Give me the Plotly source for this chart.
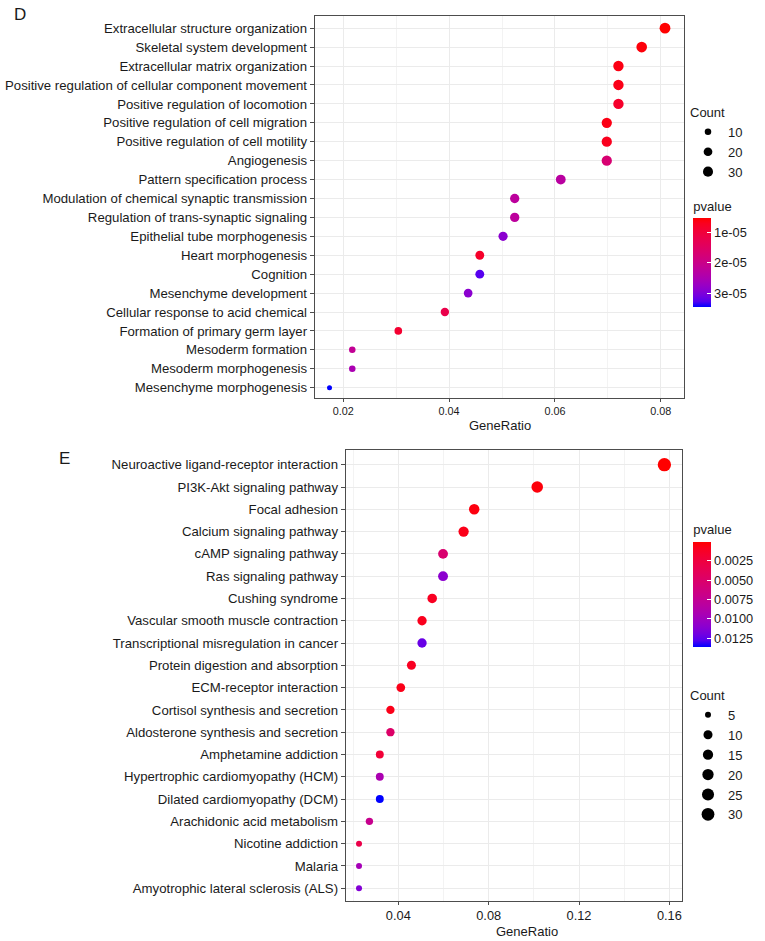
import math
import plotly.graph_objects as go

# ---------------- Data: panel D (GO terms) ----------------
d_terms = [
    "Extracellular structure organization",
    "Skeletal system development",
    "Extracellular matrix organization",
    "Positive regulation of cellular component movement",
    "Positive regulation of locomotion",
    "Positive regulation of cell migration",
    "Positive regulation of cell motility",
    "Angiogenesis",
    "Pattern specification process",
    "Modulation of chemical synaptic transmission",
    "Regulation of trans-synaptic signaling",
    "Epithelial tube morphogenesis",
    "Heart morphogenesis",
    "Cognition",
    "Mesenchyme development",
    "Cellular response to acid chemical",
    "Formation of primary germ layer",
    "Mesoderm formation",
    "Mesoderm morphogenesis",
    "Mesenchyme morphogenesis",
]
d_gene_ratio = [0.0808, 0.0764, 0.0720, 0.0720, 0.0720, 0.0698, 0.0698, 0.0698, 0.0611, 0.0524,
                0.0524, 0.0502, 0.0458, 0.0458, 0.0436, 0.0392, 0.0304, 0.0217, 0.0217, 0.0174]
d_count = [37, 35, 33, 33, 33, 32, 32, 32, 28, 24, 24, 23, 21, 21, 20, 18, 14, 10, 10, 8]
d_pvalue = [5.4e-6, 6.0e-6, 6.5e-6, 6.8e-6, 8.5e-6, 6.6e-6, 7.2e-6, 1.7e-5, 2.3e-5, 2.25e-5,
            2.25e-5, 2.9e-5, 8.3e-6, 3.27e-5, 2.9e-5, 1.2e-5, 9.1e-6, 2.15e-5, 2.53e-5, 3.47e-5]
d_count_legend = [10, 20, 30]
d_pvalue_ticks = [1e-5, 2e-5, 3e-5]
d_pvalue_ticktext = ["1e-05", "2e-05", "3e-05"]
d_x_ticks = [0.02, 0.04, 0.06, 0.08]

# ---------------- Data: panel E (KEGG pathways) ----------------
e_terms = [
    "Neuroactive ligand-receptor interaction",
    "PI3K-Akt signaling pathway",
    "Focal adhesion",
    "Calcium signaling pathway",
    "cAMP signaling pathway",
    "Ras signaling pathway",
    "Cushing syndrome",
    "Vascular smooth muscle contraction",
    "Transcriptional misregulation in cancer",
    "Protein digestion and absorption",
    "ECM-receptor interaction",
    "Cortisol synthesis and secretion",
    "Aldosterone synthesis and secretion",
    "Amphetamine addiction",
    "Hypertrophic cardiomyopathy (HCM)",
    "Dilated cardiomyopathy (DCM)",
    "Arachidonic acid metabolism",
    "Nicotine addiction",
    "Malaria",
    "Amyotrophic lateral sclerosis (ALS)",
]
e_gene_ratio = [0.1578, 0.1015, 0.0736, 0.0689, 0.0598, 0.0598, 0.0550, 0.0505, 0.0505, 0.0458,
                0.0411, 0.0365, 0.0365, 0.0318, 0.0318, 0.0318, 0.0272, 0.0226, 0.0226, 0.0226]
e_count = [34, 22, 16, 15, 13, 13, 12, 11, 11, 10, 9, 8, 8, 7, 7, 7, 6, 5, 5, 5]
e_pvalue = [0.000002, 0.0003, 0.0004, 0.0007, 0.0052, 0.0109, 0.0010, 0.0008, 0.0122, 0.0010,
            0.0007, 0.0007, 0.0048, 0.0020, 0.0092, 0.0136, 0.0071, 0.0030, 0.0095, 0.0113]
e_count_legend = [5, 10, 15, 20, 25, 30]
e_pvalue_ticks = [0.0025, 0.0050, 0.0075, 0.0100, 0.0125]
e_pvalue_ticktext = ["0.0025", "0.0050", "0.0075", "0.0100", "0.0125"]
e_x_ticks = [0.04, 0.08, 0.12, 0.16]

# ---------------- Styling helpers ----------------
W, H = 765, 941
FONT = "Liberation Sans, Arial, Helvetica, sans-serif"
TXT = "#1a1a1a"


def srgb_to_lab(rgb):
    def lin(c):
        c = c / 255.0
        return c / 12.92 if c <= 0.04045 else ((c + 0.055) / 1.055) ** 2.4
    r, g, b = [lin(c) for c in rgb]
    X = (0.4124 * r + 0.3576 * g + 0.1805 * b) / 0.95047
    Y = (0.2126 * r + 0.7152 * g + 0.0722 * b)
    Z = (0.0193 * r + 0.1192 * g + 0.9505 * b) / 1.08883

    def f(t):
        return t ** (1 / 3) if t > 216 / 24389 else (24389 / 27 * t + 16) / 116
    fx, fy, fz = f(X), f(Y), f(Z)
    return (116 * fy - 16, 500 * (fx - fy), 200 * (fy - fz))


def lab_to_srgb(lab):
    L, a, b = lab
    fy = (L + 16) / 116
    fx = fy + a / 500
    fz = fy - b / 200

    def finv(t):
        return t ** 3 if t ** 3 > 216 / 24389 else (116 * t - 16) / (24389 / 27)
    X, Y, Z = 0.95047 * finv(fx), finv(fy), 1.08883 * finv(fz)
    r = 3.2406 * X - 1.5372 * Y - 0.4986 * Z
    g = -0.9689 * X + 1.8758 * Y + 0.0415 * Z
    bb = 0.0557 * X - 0.2040 * Y + 1.0570 * Z

    def gam(c):
        c = min(max(c, 0.0), 1.0)
        return 12.92 * c if c <= 0.0031308 else 1.055 * c ** (1 / 2.4) - 0.055
    return tuple(int(round(255 * gam(c))) for c in (r, g, bb))


RED_LAB = srgb_to_lab((255, 0, 0))
BLUE_LAB = srgb_to_lab((0, 0, 255))
# colour axis runs on -pvalue so that small p-values (red) sit at the top of the bar
colorscale = []
N = 16
for i in range(N + 1):
    s = i / N
    t = 1 - s  # 0 -> red, 1 -> blue
    lab = tuple(RED_LAB[k] + (BLUE_LAB[k] - RED_LAB[k]) * t for k in range(3))
    r, g, b = lab_to_srgb(lab)
    colorscale.append([s, f"rgb({r},{g},{b})"])


def size_scale(counts, dmin, dmax):
    lo, hi = min(counts), max(counts)
    return lambda c: dmin + (dmax - dmin) * math.sqrt((c - lo) / (hi - lo))


size_d = size_scale(d_count, 5.0, 10.8)
size_e = size_scale(e_count, 6.0, 13.3)

fig = go.Figure()

# main dot traces
fig.add_trace(go.Scatter(
    x=d_gene_ratio, y=d_terms, mode="markers", xaxis="x", yaxis="y",
    marker=dict(size=[size_d(c) for c in d_count], color=[-p for p in d_pvalue],
                coloraxis="coloraxis", line=dict(width=0), opacity=1),
    showlegend=False, hoverinfo="x+y",
))
fig.add_trace(go.Scatter(
    x=e_gene_ratio, y=e_terms, mode="markers", xaxis="x2", yaxis="y2",
    marker=dict(size=[size_e(c) for c in e_count], color=[-p for p in e_pvalue],
                coloraxis="coloraxis2", line=dict(width=0), opacity=1),
    showlegend=False, hoverinfo="x+y",
))

# size legends (Count)
for c in d_count_legend:
    fig.add_trace(go.Scatter(
        x=[None], y=[None], mode="markers", xaxis="x", yaxis="y", name=str(c),
        marker=dict(size=size_d(c), color="black", line=dict(width=0)),
        legend="legend", showlegend=True, hoverinfo="skip",
    ))
for c in e_count_legend:
    fig.add_trace(go.Scatter(
        x=[None], y=[None], mode="markers", xaxis="x2", yaxis="y2", name=str(c),
        marker=dict(size=size_e(c), color="black", line=dict(width=0)),
        legend="legend2", showlegend=True, hoverinfo="skip",
    ))

GRID = "#EBEBEB"
MINOR = "#F3F3F3"
BORDER = "#4d4d4d"


def xaxis_style(domain, anchor, rng, ticks, tickfont, minor_dtick):
    return dict(
        domain=domain, anchor=anchor, range=rng,
        tickmode="array", tickvals=ticks, ticktext=[f"{t:.2f}" for t in ticks],
        tickfont=dict(family=FONT, size=tickfont, color=TXT),
        showgrid=True, gridcolor=GRID, gridwidth=1,
        minor=dict(dtick=minor_dtick, tick0=0, showgrid=True, gridcolor=MINOR, gridwidth=1, ticks=""),
        showline=True, linecolor=BORDER, linewidth=1, mirror=True,
        ticks="outside", ticklen=3, tickcolor=BORDER, tickwidth=1,
        zeroline=False, fixedrange=True,
    )


def yaxis_style(domain, anchor, cats):
    return dict(
        domain=domain, anchor=anchor, type="category",
        categoryorder="array", categoryarray=cats,
        range=[len(cats) - 1 + 0.56, -0.66],
        tickfont=dict(family=FONT, size=13.2, color=TXT),
        showgrid=True, gridcolor=GRID, gridwidth=1,
        showline=True, linecolor=BORDER, linewidth=1, mirror=True,
        ticks="outside", ticklen=4, tickcolor=BORDER, tickwidth=1,
        zeroline=False, fixedrange=True,
    )


d_xdom = [314.7 / W, 684.3 / W]
d_ydom = [1 - 398.3 / H, 1 - 15.7 / H]
e_xdom = [345.7 / W, 682.0 / W]
e_ydom = [1 - 900.7 / H, 1 - 450.0 / H]

TITLE_SPACE = 21  # pixels the colorbar title takes inside the colorbar length


def colorbar(bar_top_px, bar_len_px, ticks, ticktext):
    total = bar_len_px + TITLE_SPACE
    top = bar_top_px - TITLE_SPACE
    return dict(
        title=dict(text="pvalue", side="top", font=dict(family=FONT, size=13, color=TXT)),
        tickmode="array", tickvals=[-t for t in ticks], ticktext=ticktext,
        tickfont=dict(family=FONT, size=12.8, color=TXT),
        ticks="inside", ticklen=4, tickcolor="white", tickwidth=1,
        outlinewidth=0, thickness=18,
        lenmode="pixels", len=total,
        x=693.3 / W, xanchor="left", xpad=0,
        y=1 - (top + total / 2) / H, yanchor="middle", ypad=0,
    )


fig.update_layout(
    width=W, height=H, autosize=False,
    margin=dict(l=0, r=0, t=0, b=0),
    paper_bgcolor="white", plot_bgcolor="white",
    font=dict(family=FONT, color=TXT),
    xaxis=xaxis_style(d_xdom, "y", [0.0146, 0.08445], d_x_ticks, 10.8, 0.01),
    yaxis=yaxis_style(d_ydom, "x", d_terms),
    xaxis2=xaxis_style(e_xdom, "y2", [0.0167, 0.1656], e_x_ticks, 12.8, 0.02),
    yaxis2=yaxis_style(e_ydom, "x2", e_terms),
    coloraxis=dict(colorscale=colorscale, cmin=-max(d_pvalue), cmax=-min(d_pvalue),
                   colorbar=colorbar(219.3, 88, d_pvalue_ticks, d_pvalue_ticktext)),
    coloraxis2=dict(colorscale=colorscale, cmin=-max(e_pvalue), cmax=-min(e_pvalue),
                    colorbar=colorbar(542.7, 104, e_pvalue_ticks, e_pvalue_ticktext)),
    legend=dict(
        title=dict(text="Count", font=dict(family=FONT, size=13, color=TXT)),
        font=dict(family=FONT, size=13, color=TXT),
        itemsizing="trace", x=688 / W, xanchor="left", y=1 - 100 / H, yanchor="top",
        bgcolor="rgba(0,0,0,0)", borderwidth=0, tracegroupgap=0,
    ),
    legend2=dict(
        title=dict(text="Count", font=dict(family=FONT, size=13, color=TXT)),
        font=dict(family=FONT, size=13, color=TXT),
        itemsizing="trace", x=688 / W, xanchor="left", y=1 - 683 / H, yanchor="top",
        bgcolor="rgba(0,0,0,0)", borderwidth=0, tracegroupgap=0,
    ),
    annotations=[
        dict(text="D", x=12 / W, y=1 - 14 / H, xref="paper", yref="paper",
             showarrow=False, font=dict(family=FONT, size=17, color=TXT), xanchor="left", yanchor="middle"),
        dict(text="E", x=57 / W, y=1 - 458 / H, xref="paper", yref="paper",
             showarrow=False, font=dict(family=FONT, size=17, color=TXT), xanchor="left", yanchor="middle"),
        dict(text="GeneRatio", x=500 / W, y=1 - 425 / H, xref="paper", yref="paper",
             showarrow=False, font=dict(family=FONT, size=13, color=TXT), xanchor="center", yanchor="middle"),
        dict(text="GeneRatio", x=527 / W, y=1 - 931 / H, xref="paper", yref="paper",
             showarrow=False, font=dict(family=FONT, size=13, color=TXT), xanchor="center", yanchor="middle"),
    ],
)

fig.write_html("out.html", config={"displayModeBar": False},
               post_script="document.body.style.margin='0px';")
